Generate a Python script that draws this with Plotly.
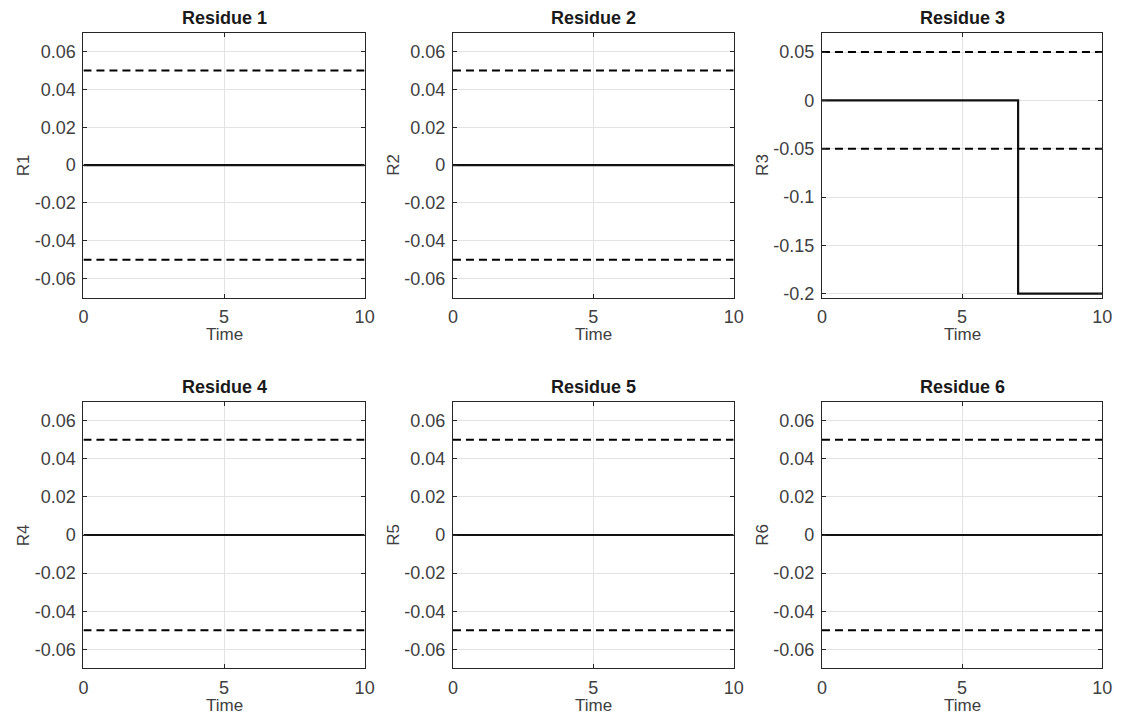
import plotly.graph_objects as go

# ---- data ----
time = [0, 7, 7, 10]
r1 = [0, 0, 0, 0]
r2 = [0, 0, 0, 0]
r3 = [0, 0, -0.2, -0.2]
r4 = [0, 0, 0, 0]
r5 = [0, 0, 0, 0]
r6 = [0, 0, 0, 0]
threshold_upper = 0.05
threshold_lower = -0.05
titles = ["Residue 1", "Residue 2", "Residue 3", "Residue 4", "Residue 5", "Residue 6"]
ylabels = ["R1", "R2", "R3", "R4", "R5", "R6"]
x_ticks = [0, 5, 10]
y_ticks_small = [-0.06, -0.04, -0.02, 0, 0.02, 0.04, 0.06]
y_tick_text_small = ["-0.06", "-0.04", "-0.02", "0", "0.02", "0.04", "0.06"]
y_ticks_r3 = [-0.2, -0.15, -0.1, -0.05, 0, 0.05]
y_tick_text_r3 = ["-0.2", "-0.15", "-0.1", "-0.05", "0", "0.05"]
residues = [r1, r2, r3, r4, r5, r6]

W, H = 1125, 720
FONT = "Liberation Sans, Arial, Helvetica, sans-serif"
TICKC = "#404040"
AXC = "#262626"

# panel pixel boxes (left, right, top, bottom)
cols = [(79.5, 364.5), (454, 738.5), (828, 1112)]
rows = [(33, 300), (405, 674)]


def px_x(v):
    return v / W


def px_y(v):
    return 1 - v / H


fig = go.Figure()
layout = dict(
    width=W, height=H, margin=dict(l=0, r=0, t=0, b=0),
    paper_bgcolor="white", plot_bgcolor="white", showlegend=False,
    font=dict(family=FONT, size=18, color=TICKC),
)
annotations = []

for i in range(6):
    r, c = divmod(i, 3)
    l, rr = cols[c]
    t, b = rows[r]
    xd = [px_x(l), px_x(rr)]
    yd = [px_y(b), px_y(t)]
    n = i + 1
    xa = "x" if n == 1 else f"x{n}"
    ya = "y" if n == 1 else f"y{n}"
    xkey = "xaxis" if n == 1 else f"xaxis{n}"
    ykey = "yaxis" if n == 1 else f"yaxis{n}"

    # thresholds
    for thr in (threshold_upper, threshold_lower):
        fig.add_trace(go.Scatter(
            x=[time[0], time[-1]], y=[thr, thr], mode="lines",
            line=dict(color="black", width=2, dash="8px,5px"),
            xaxis=xa, yaxis=ya, hoverinfo="skip"))
    fig.add_trace(go.Scatter(
        x=time, y=residues[i], mode="lines",
        line=dict(color="#111111", width=2.2),
        xaxis=xa, yaxis=ya))

    if i == 2:
        yr = [-0.204, 0.07]
        yt, ytt = y_ticks_r3, y_tick_text_r3
    else:
        yr = [-0.07, 0.07]
        yt, ytt = y_ticks_small, y_tick_text_small

    common = dict(
        showline=True, linecolor=AXC, linewidth=1, mirror="ticks",
        ticks="inside", ticklen=4, tickcolor=AXC, tickwidth=1,
        showgrid=True, gridcolor="#e3e3e3", gridwidth=1,
        zeroline=False, tickfont=dict(family=FONT, size=18, color=TICKC),
        fixedrange=True,
    )
    layout[xkey] = dict(common, domain=xd, range=[0, 10], tickvals=x_ticks,
                        ticktext=[str(v) for v in x_ticks],
                        anchor=ya, ticklabelstandoff=3)
    layout[ykey] = dict(common, domain=yd, range=yr, tickvals=yt, ticktext=ytt,
                        anchor=xa, ticklabelstandoff=3)

    cx = px_x((l + rr) / 2)
    annotations.append(dict(text=f"<b>{titles[i]}</b>", x=cx, y=px_y(t - 15),
                            xref="paper", yref="paper", showarrow=False,
                            xanchor="center", yanchor="middle",
                            font=dict(family=FONT, size=18, color="#1a1a1a")))
    annotations.append(dict(text="Time", x=cx, y=px_y(b + 37),
                            xref="paper", yref="paper", showarrow=False,
                            xanchor="center", yanchor="middle",
                            font=dict(family=FONT, size=17, color=TICKC)))
    annotations.append(dict(text=ylabels[i], x=px_x(l - 61), y=px_y((t + b) / 2),
                            xref="paper", yref="paper", showarrow=False,
                            xanchor="center", yanchor="middle", textangle=-90,
                            font=dict(family=FONT, size=17, color=TICKC)))

layout["annotations"] = annotations
fig.update_layout(**layout)

post = (
    "document.documentElement.style.margin='0';"
    "document.documentElement.style.overflow='hidden';"
    "document.body.style.margin='0';"
    "document.body.style.overflow='hidden';"
    "var gd=document.getElementById('{plot_id}');"
    "Plotly.relayout(gd,{width:window.innerWidth,height:window.innerHeight});"
)
fig.write_html("out.html", post_script=post, config={"displayModeBar": False})
